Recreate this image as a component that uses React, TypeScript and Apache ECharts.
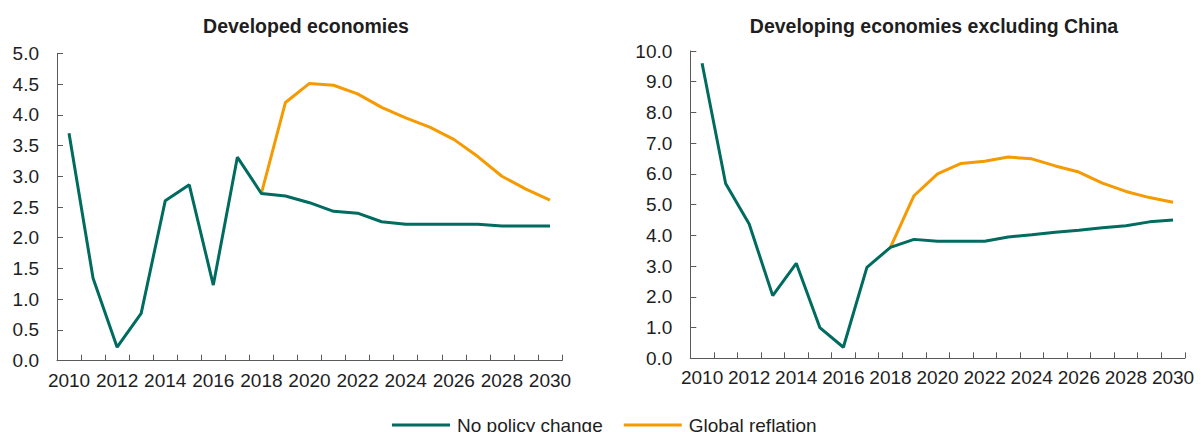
import React, { useEffect, useRef } from "react";
import * as echarts from "echarts";

const years = [
  "2010", "2011", "2012", "2013", "2014", "2015", "2016", "2017", "2018", "2019", "2020",
  "2021", "2022", "2023", "2024", "2025", "2026", "2027", "2028", "2029", "2030",
];

const developedNoPolicy = [
  3.7, 1.34, 0.22, 0.77, 2.6, 2.86, 1.23, 3.31, 2.72, 2.68, 2.57,
  2.43, 2.4, 2.26, 2.22, 2.22, 2.22, 2.22, 2.19, 2.19, 2.19,
];
const developedReflation = [
  null, null, null, null, null, null, null, null, 2.72, 4.2, 4.51,
  4.48, 4.34, 4.12, 3.95, 3.8, 3.6, 3.32, 3.0, 2.79, 2.61,
];

const developingNoPolicy = [
  9.6, 5.69, 4.37, 2.04, 3.09, 1.0, 0.36, 2.96, 3.61, 3.87, 3.81,
  3.81, 3.81, 3.95, 4.02, 4.1, 4.17, 4.25, 4.31, 4.44, 4.5,
];
const developingReflation = [
  null, null, null, null, null, null, null, null, 3.61, 5.29, 6.0,
  6.34, 6.41, 6.55, 6.49, 6.26, 6.06, 5.7, 5.43, 5.23, 5.08,
];

const titles = ["Developed economies", "Developing economies excluding China"];
const seriesNames = ["No policy change", "Global reflation"];

const TEAL = "#006b5f";
const ORANGE = "#f59a00";
const FONT = '"Liberation Sans", Arial, sans-serif';
const AXIS_COLOR = "#5a5a5a";
const TEXT_COLOR = "#1e1e1e";

export default function App() {
  const ref = useRef<HTMLDivElement>(null);

  useEffect(() => {
    if (!ref.current) return;
    const chart = echarts.init(ref.current, undefined, { renderer: "svg" });

    const xAxis = (gridIndex: number) => ({
      type: "category",
      gridIndex,
      data: years,
      boundaryGap: true,
      axisLine: { lineStyle: { color: AXIS_COLOR, width: 1 } },
      axisTick: { show: true, inside: true, length: 6, interval: 0, lineStyle: { color: AXIS_COLOR } },
      axisLabel: { interval: 1, color: TEXT_COLOR, fontSize: 19, fontFamily: FONT, margin: 10 },
      splitLine: { show: false },
    });

    const yAxis = (gridIndex: number, max: number, interval: number) => ({
      type: "value",
      gridIndex,
      min: 0,
      max,
      interval,
      axisLine: { show: true, lineStyle: { color: AXIS_COLOR, width: 1 } },
      axisTick: { show: true, inside: true, length: 6, lineStyle: { color: AXIS_COLOR } },
      axisLabel: {
        color: TEXT_COLOR,
        fontSize: 19,
        fontFamily: FONT,
        margin: 18,
        formatter: (v: number) => v.toFixed(1),
      },
      splitLine: { show: false },
    });

    const line = (name: string, data: (number | null)[], idx: number, color: string, z: number) => ({
      name,
      type: "line",
      xAxisIndex: idx,
      yAxisIndex: idx,
      data,
      symbol: "none",
      showSymbol: false,
      connectNulls: false,
      lineStyle: { color, width: 3 },
      itemStyle: { color },
      z,
    });

    chart.setOption({
      animation: false,
      backgroundColor: "#ffffff",
      graphic: [
        {
          type: "text",
          x: 306,
          y: 26,
          style: {
            text: titles[0],
            font: `bold 19.5px ${FONT}`,
            fill: TEXT_COLOR,
            align: "center",
            verticalAlign: "middle",
          },
        },
        {
          type: "text",
          x: 934,
          y: 26,
          style: {
            text: titles[1],
            font: `bold 19.5px ${FONT}`,
            fill: TEXT_COLOR,
            align: "center",
            verticalAlign: "middle",
          },
        },
      ],
      legend: {
        left: 387,
        top: 410,
        itemWidth: 58,
        itemHeight: 3,
        itemGap: 21,
        icon: "rect",
        data: seriesNames,
        textStyle: { color: TEXT_COLOR, fontSize: 19, fontFamily: FONT, lineHeight: 20, padding: [0, 0, 0, 2] },
      },
      grid: [
        { left: 57, top: 53.3, width: 505, height: 307.4, containLabel: false },
        { left: 690.3, top: 51, width: 494.5, height: 307.3, containLabel: false },
      ],
      xAxis: [xAxis(0), xAxis(1)],
      yAxis: [yAxis(0, 5, 0.5), yAxis(1, 10, 1)],
      series: [
        line(seriesNames[1], developedReflation, 0, ORANGE, 2),
        line(seriesNames[0], developedNoPolicy, 0, TEAL, 3),
        line(seriesNames[1], developingReflation, 1, ORANGE, 2),
        line(seriesNames[0], developingNoPolicy, 1, TEAL, 3),
      ],
    });

    return () => chart.dispose();
  }, []);

  return (
    <div
      ref={ref}
      style={{ position: "absolute", left: 0, top: 0, width: 1203, height: 432, background: "#fff" }}
    />
  );
}
